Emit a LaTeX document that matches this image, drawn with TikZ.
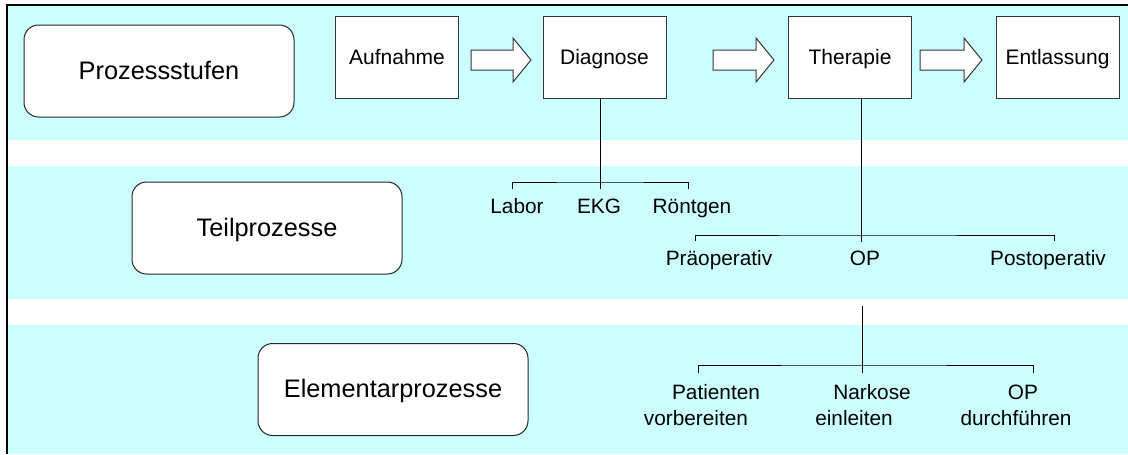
\documentclass[tikz,border=0pt]{standalone}
\usepackage{fontspec}
\setmainfont{Liberation Sans}
\usetikzlibrary{calc}
\definecolor{band}{HTML}{CCFFFF}
% block arrow between two process stages: #1 = tail x, #2 = tip x
\newcommand\blockarrow[2]{%
  \draw[barrow] (#1,50) -- (#2-18,50) -- (#2-18,38) -- (#2,60)
    -- (#2-18,82) -- (#2-18,70) -- (#1,70) -- cycle;}
\begin{document}
\begin{tikzpicture}[x=0.75pt,y=-0.75pt,
  stage/.style={draw=black!80,line width=0.75pt,fill=white,
    minimum width=92.25pt,minimum height=61.5pt,inner sep=0pt,
    text height=11.5pt,text depth=0pt,
    font=\fontsize{15.75pt}{18pt}\selectfont},
  level/.style={draw=black!85,line width=0.75pt,fill=white,
    rounded corners=11pt,minimum width=202.5pt,minimum height=69pt,
    inner sep=0pt,text height=12pt,text depth=0pt,
    font=\fontsize{19pt}{22pt}\selectfont},
  lbl/.style={inner sep=0pt,anchor=base,
    font=\fontsize{15.6pt}{18pt}\selectfont},
  tree/.style={draw=black,line width=0.75pt},
  barrow/.style={draw=black!80,fill=white,line width=0.75pt,line join=miter}]
\useasboundingbox (0,0) rectangle (1128,454);
\fill[white] (0,0) rectangle (1128,454);

% level bands
\fill[band] (8,6) rectangle (1128,140);
\fill[band] (8,166) rectangle (1128,299);
\fill[band] (8,325) rectangle (1128,454);
\draw[line width=1.5pt] (7,454) -- (7,5) -- (1128,5);

% level titles
\node[level] (stufen) at (159,71) {Prozessstufen};
\node[level] (teil) at (267,228) {Teilprozesse};
\node[level] (elem) at (393,389.5) {Elementarprozesse};

% process stages
\node[stage] (auf) at (397,57) {Aufnahme};
\node[stage] (dia) at (604.5,57) {Diagnose};
\node[stage] (the) at (850,57) {Therapie};
\node[stage] (ent) at (1057.5,57) {Entlassung};

\blockarrow{471}{531}
\blockarrow{713}{774}
\blockarrow{920}{982}

% sub-processes of Diagnose
\node[lbl] (lab) at (517,213) {Labor};
\node[lbl] (ekg) at (599,213) {EKG};
\node[lbl] (roe) at (692,213) {Röntgen};
\coordinate (dj) at (600,182);
\coordinate (dm) at (600,189);
\coordinate (dl) at (512,189);
\coordinate (dr) at (688,189);
\draw[tree] (dia.south -| dj) -- (dm);
\draw[tree] (dl) |- (dj) -| (dr);

% sub-processes of Therapie
\node[lbl] (pra) at (719,265) {Präoperativ};
\node[lbl] (op) at (865,265) {OP};
\node[lbl] (post) at (1048,265) {Postoperativ};
\coordinate (tj) at (861,235);
\coordinate (tm) at (861,242);
\coordinate (tl) at (695,241);
\coordinate (tr) at (1054,241);
\draw[tree] (the.south -| tj) -- (tm);
\draw[tree] (tl) |- (tj) -| (tr);

% elementary processes of OP
\node[lbl] (pat1) at (716,399) {Patienten};
\node[lbl] (pat2) at (696,425) {vorbereiten};
\node[lbl] (nar1) at (872,399) {Narkose};
\node[lbl] (nar2) at (854,425) {einleiten};
\node[lbl] (opd1) at (1023,399) {OP};
\node[lbl] (opd2) at (1016,425) {durchführen};
\coordinate (et) at (862,306);
\coordinate (ej) at (862,365);
\coordinate (em) at (862,373);
\coordinate (el) at (698,373);
\coordinate (er) at (1033,373);
\draw[tree] (et) -- (em);
\draw[tree] (el) |- (ej) -| (er);
\end{tikzpicture}
\end{document}
